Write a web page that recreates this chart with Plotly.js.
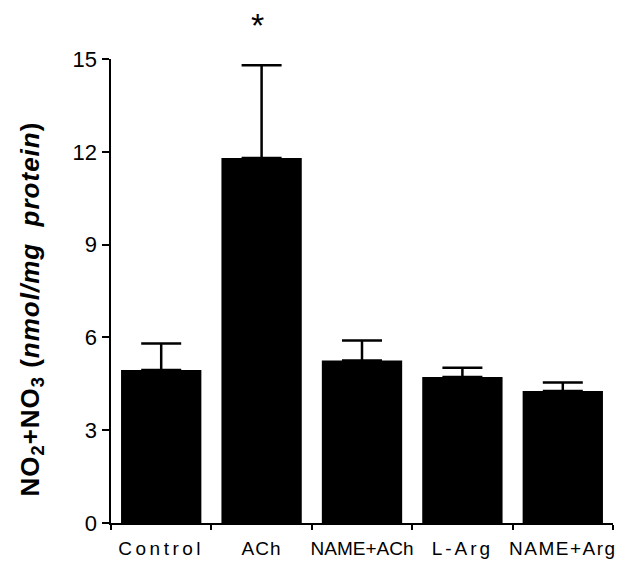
<!DOCTYPE html>
<html>
<head>
<meta charset="utf-8">
<script src="https://cdn.plot.ly/plotly-3.0.1.min.js"></script>
<style>html,body{margin:0;padding:0;background:#fff;}</style>
</head>
<body>
<div id="chart" style="width:633px;height:561px;"></div>
<script>
var categories = ["Control", "ACh", "NAME+ACh", "L-Arg", "NAME+Arg"];
var means = [4.95, 11.8, 5.25, 4.72, 4.27];
var sem = [0.85, 3.0, 0.65, 0.3, 0.27];
var yTicks = [0, 3, 6, 9, 12, 15];
var significant = ["ACh"];

// letter spacing (px) of each x label, to mimic the typeset spacing
var labelSpacing = [3.5, 1, 0, 3, 1.5];

var trace = {
  type: "bar",
  x: categories,
  y: means,
  width: 0.8,
  marker: {color: "#000000", line: {width: 0}},
  error_y: {
    type: "data",
    symmetric: false,
    array: sem,
    arrayminus: sem.map(function(){return 0;}),
    color: "#000000",
    thickness: 2.5,
    width: 20
  },
  hoverinfo: "none"
};

var annotations = significant.map(function(c){
  var i = categories.indexOf(c);
  return {
    x: c, y: means[i] + sem[i], xref: "x", yref: "y",
    text: "*", showarrow: false, yshift: 40, xshift: -4,
    font: {family: "Liberation Sans, Arial, sans-serif", size: 34, color: "#000"}
  };
});

var layout = {
  width: 633, height: 561,
  margin: {l: 111, r: 20, t: 59, b: 38},
  paper_bgcolor: "#fff", plot_bgcolor: "#fff",
  showlegend: false,
  bargap: 0.2,
  xaxis: {
    type: "category",
    range: [-0.5, 4.5],
    tickson: "boundaries",
    tickvals: categories,
    ticktext: categories.map(function(c, i){
      return '<span style="letter-spacing:' + labelSpacing[i] + 'px">' + c + '</span>';
    }),
    ticks: "outside", ticklen: 5, tickwidth: 2, tickcolor: "#000",
    showline: true, linecolor: "#000", linewidth: 2,
    showgrid: false, zeroline: false,
    tickangle: 0,
    ticklabelstandoff: 7,
    tickfont: {family: "Liberation Sans, Arial, sans-serif", size: 19, color: "#000"}
  },
  yaxis: {
    range: [0, 15],
    tickvals: yTicks,
    ticktext: yTicks.map(String),
    ticks: "outside", ticklen: 7, tickwidth: 2, tickcolor: "#000",
    showline: true, linecolor: "#000", linewidth: 2.5,
    showgrid: false, zeroline: false,
    ticklabelstandoff: 0,
    tickfont: {family: "Liberation Sans, Arial, sans-serif", size: 22, color: "#000"},
    title: {
      text: '<span style="letter-spacing:1px"><b>NO<sub>2</sub>+NO<sub>3</sub> (<i>nmol/mg&nbsp;&nbsp;protein</i>)</b></span>&nbsp;&nbsp;&nbsp;&nbsp;&nbsp;',
      font: {family: "Liberation Sans, Arial, sans-serif", size: 26, color: "#000"},
      standoff: 26
    },
    automargin: false
  },
  annotations: annotations
};

Plotly.newPlot("chart", [trace], layout, {displayModeBar: false, staticPlot: true});
</script>
</body>
</html>
